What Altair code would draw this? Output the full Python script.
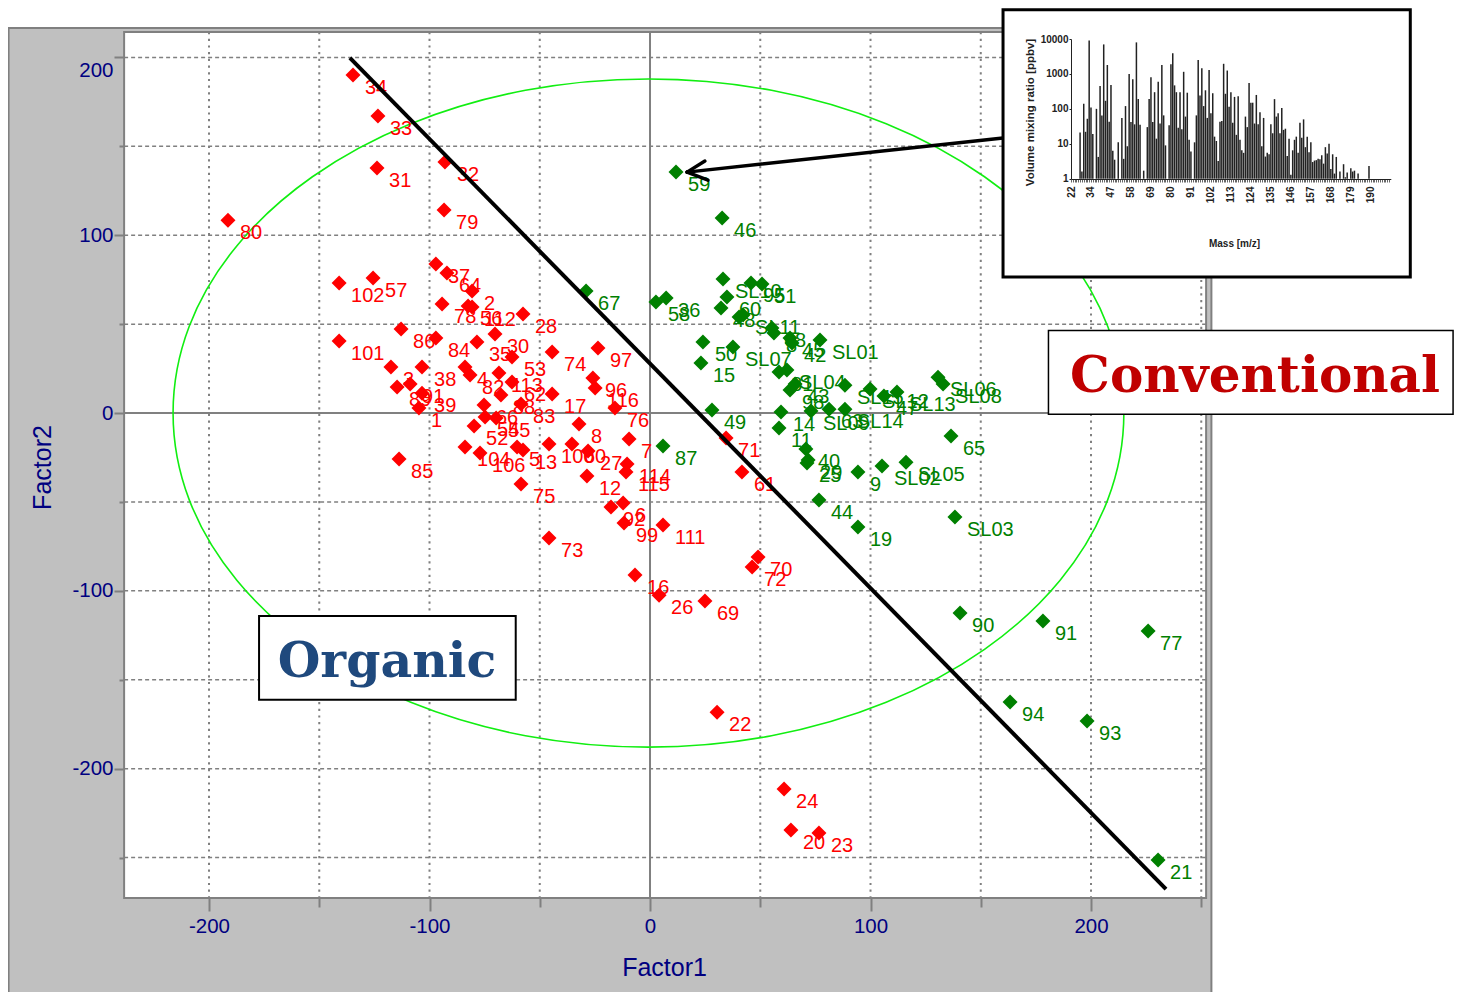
import altair as alt
import pandas as pd

# ---- scatter scores (Factor1, Factor2, sample label) ----
red_x = [-134.7,-123.4,-123.8,-93.0,-93.4,-191.4,-141.0,-125.6,-141.0,-113.8,-97.1,-92.1,-80.7,-94.3,-82.5,-80.7,-57.6,-112.9,-97.1,-78.5,-70.3,-44.4,-62.6,-23.6,-117.5,-103.4,-83.9,-81.6,-68.5,-62.6,-25.9,-24.9,-114.7,-108.8,-103.4,-104.8,-58.5,-67.6,-44.4,-75.3,-79.8,-74.8,-69.8,-15.9,-32.2,-9.5,-83.9,-77.1,-60.3,-57.6,-45.8,-35.4,-28.1,-10.4,-10.9,-28.6,-58.5,-17.7,-12.2,-11.8,5.9,-45.8,-6.8,4.1,24.9,49.0,46.3,30.4,60.8,63.9,76.6,34.5,41.7]
red_y = [190.1,167.0,137.8,141.2,114.2,108.5,73.1,75.9,40.5,-25.9,83.8,78.7,68.6,61.3,60.2,59.6,55.7,47.2,42.2,39.9,44.4,34.3,31.5,36.6,25.9,25.9,25.9,21.4,22.5,17.4,19.7,14.1,14.6,16.3,11.2,2.8,5.1,10.1,10.7,4.5,-7.3,-2.2,-2.8,2.8,-6.2,-14.6,-19.1,-22.5,-19.1,-20.8,-17.4,-17.4,-21.4,-28.7,-33.2,-35.4,-39.9,-52.9,-50.6,-61.9,-63.0,-70.3,-91.1,-102.4,-105.7,-81.0,-86.6,-168.2,-211.5,-234.5,-236.2,-14.1,-33.2]
red_labels = ["34","33","31","32","79","80","102","57","101","85","37","64","2","78","56","112","28","86","84","35","30","74","53","97","3","38","4","82","113","62","96","116","89","91","39","1","83","88","17","66","52","54","55","76","8","7","104","106","5","13","100","60","27","114","115","12","75","92","6","99","111","73","16","26","69","70","72","22","24","20","23","71","61"]

green_x = [11.8,32.7,-29.0,2.7,7.3,33.1,45.8,50.8,34.9,32.2,42.2,40.4,55.3,56.2,63.5,64.4,77.1,24.0,37.6,23.1,58.5,62.1,65.8,63.5,88.4,99.8,106.1,112.0,130.6,132.9,59.4,73.0,81.2,88.4,58.5,28.1,70.7,71.7,71.2,94.3,105.2,116.1,136.5,76.6,138.3,94.3,5.9,140.6,178.2,225.9,163.3,198.2,230.4]
green_y = [135.5,109.7,68.6,62.4,64.7,75.4,73.1,72.6,65.2,59.1,55.1,54.0,47.8,45.0,42.2,39.4,41.1,39.9,37.1,28.1,23.1,24.2,16.3,12.9,15.7,13.5,9.6,11.8,20.2,16.3,0.6,1.1,2.2,2.2,-8.4,1.7,-20.2,-26.4,-28.1,-33.2,-29.8,-27.6,-12.9,-48.9,-58.5,-64.1,-18.6,-112.5,-117.0,-122.6,-162.5,-173.2,-251.4]
green_labels = ["59","46","67","58","36","SL10","95","51","60","48","SL11","","68","8","45","42","SL01","50","SL07","15","81","SL04","43","98","SL15","SL12","47","SL13","SL06","SL08","14","SL09","63","SL14","11","49","40","29","25","9","SL02","SL05","65","44","SL03","19","87","90","91","77","94","93","21"]

# ---- confidence ellipse ----
ell_x = [214.9,207.6,186,151.7,107.1,55.1,-0.7,-56.5,-108.5,-153.1,-187.4,-209,-216.3,-209,-187.4,-153.1,-108.5,-56.5,-0.7,55.1,107.1,151.7,186,207.6]
ell_y = [0,48.7,94,132.9,162.7,181.5,187.9,181.5,162.7,132.9,94,48.7,0,-48.7,-94,-132.9,-162.7,-181.5,-187.9,-181.5,-162.7,-132.9,-94,-48.7]

# ---- separating line and arrow ----
sep_x = [-136.1, 234.0]
sep_y = [199.7, -267.7]
arrow_x = [160.1, 16.8, 24.9, 16.8, 16.8, 26.3]
arrow_y = [154.7, 135.5, 141.7, 135.5, 135.5, 131.0]
arrow_seg = [0, 0, 1, 1, 2, 2]

# ---- axes ----
x_ticks = [-200, -150, -100, -50, 0, 50, 100, 150, 200, 250]
y_ticks = [200, 150, 100, 50, 0, -50, -100, -150, -200, -250]
x_grid = [v for v in x_ticks if v != 0]
y_grid = [v for v in y_ticks if v != 0]

# ---- inset spectrum (bar position, volume mixing ratio) ----
ms_idx = [5,6,7,8,9,10,11,12,14,15,16,17,18,19,20,21,22,23,24,26,28,29,30,31,32,33,34,35,36,37,38,40,42,43,44,45,46,47,48,49,50,51,52,54,55,56,57,58,59,60,61,62,63,64,65,66,68,69,70,71,72,73,74,75,76,77,78,79,80,81,82,83,84,85,86,87,88,89,90,91,92,93,94,95,96,97,98,99,100,101,102,103,104,105,106,107,108,109,110,111,112,113,114,115,116,117,118,119,120,121,122,123,124,125,126,127,128,129,130,131,132,133,134,135,136,137,138,139,140,141,142,143,144,145,146,148,150,151,152,154,155,156,158,164]
ms_val = [21,1.6,140,22,52,9000,110,19,100,4.2,450,65,7000,170,1800,43,480,6.3,3.5,11,55,3.7,120,8.5,1000,42,700,36,8000,190,35,1.7,30,190,800,42,300,14,600,38,1800,65,9,34,1900,3900,470,300,29,300,26,1150,60,290,13,6,11,65,2500,240,1450,120,340,55,1300,75,280,16,12,3.2,43,45,1950,270,1250,115,300,40,220,18,230,13,6.5,5.5,60,30,550,150,150,38,250,36,80,8.5,55,4.3,5.5,5,36,20,190,60,75,20,105,25,27,4.5,14,1.3,6.5,13,16,5.5,40,15,50,8,16,5.7,11,3,3.3,3.4,3.7,3.6,4.7,2.7,8,5.3,10,1.9,5,1.4,4.2,1.6,2.6,1.1,1.5,2.0,1.6,1.7,1.4,2.3]
ms_tick_labels = [22,34,47,58,69,80,91,102,113,124,135,146,157,168,179,190]
ms_ticks = list(range(176))
ms_y_ticks = [1, 10, 100, 1000, 10000]

# ---- boxes (data units of the main axes) ----
panel = dict(x=[-290.9], x2=[254.6], y=[216.5], y2=[-328.0])
plot_rect = dict(x=[-238.5], x2=[252.2], y=[214.3], y2=[-272.8])
inset_box = dict(x=[160.1], x2=[344.8], y=[226.8], y2=[76.5])
conv_box = dict(x=[180.7], x2=[364.2], y=[46.4], y2=[-0.7])
org_box = dict(x=[-177.3], x2=[-60.9], y=[-114.2], y2=[-161.2])
conv_text = dict(x=[274.4], y=[20.5], t=["Conventional"])
org_text = dict(x=[-119.3], y=[-140.0], t=["Organic"])

FONT = "Liberation Sans"
NAVY = "#000080"
GRAY = "#808080"
RED = "#ff0000"
GREEN = "#008000"
W, H = 1446, 984

sx = alt.Scale(domain=[-291.16, 364.62], nice=False, zero=False)
sy = alt.Scale(domain=[-325.6, 227.8], nice=False, zero=False)
X = lambda f, **k: alt.X(f, type="quantitative", scale=sx, **k)
Y = lambda f, **k: alt.Y(f, type="quantitative", scale=sy, **k)
X2 = alt.X2("x2")
Y2 = alt.Y2("y2")

hide_minor = "datum.value % 100 === 0 ? '' + datum.value : ''"
x_axis = alt.Axis(
    orient="bottom", offset=-94, values=x_ticks, labelExpr=hide_minor, domain=False, grid=False,
    tickColor=GRAY, tickWidth=2, tickSize={"condition": {"test": "datum.value % 100 === 0", "value": 13}, "value": 9},
    labelFont=FONT, labelFontSize=20.5, labelColor=NAVY, labelPadding=5, labelOverlap=False, labelFlush=False,
    title="Factor1", titleFont=FONT, titleFontSize=25, titleFontWeight="normal", titleColor=NAVY,
    titleX=656, titleY=69, titleBaseline="middle", titleAnchor="middle", zindex=1)
y_axis = alt.Axis(
    orient="left", offset=-116, values=y_ticks, labelExpr="datum.value % 100 === 0 ? '' + datum.value : ''",
    domain=False, grid=False, tickColor=GRAY, tickWidth=2,
    tickSize={"condition": {"test": "datum.value % 100 === 0", "value": 10}, "value": 5},
    labelFont=FONT, labelFontSize=20.5, labelColor=NAVY, labelPadding=1, labelOverlap=False, labelFlush=False,
    labelOffset={"condition": {"test": "datum.value === 200", "value": 13}, "value": 0},
    title="Factor2", titleFont=FONT, titleFontSize=25, titleFontWeight="normal", titleColor=NAVY,
    titleX=-82, titleY=459, titleBaseline="middle", titleAnchor="middle", zindex=1)


def box(d, fill, stroke, sw):
    return alt.Chart(pd.DataFrame(d)).mark_rect(fill=fill, stroke=stroke, strokeWidth=sw).encode(
        x=X("x"), x2=X2, y=Y("y"), y2=Y2)


panel_l = box(panel, "#c0c0c0", GRAY, 2).encode(x=X("x", axis=x_axis), y=Y("y", axis=y_axis))
plot_l = box(plot_rect, "#ffffff", GRAY, 2)

left, right = plot_rect["x"][0], plot_rect["x2"][0]
top, bottom = plot_rect["y"][0], plot_rect["y2"][0]
gx = pd.DataFrame({"x": x_grid, "y": top, "y2": bottom})
gy = pd.DataFrame({"y": y_grid, "x": left, "x2": right})
grid_v = alt.Chart(gx).mark_rule(color=GRAY, strokeWidth=2, strokeDash=[2.2, 4.5]).encode(x=X("x"), y=Y("y"), y2=Y2)
grid_h = alt.Chart(gy).mark_rule(color=GRAY, strokeWidth=1.5, strokeDash=[4, 3]).encode(y=Y("y"), x=X("x"), x2=X2)
zero_v = alt.Chart(pd.DataFrame({"x": [0], "y": [top], "y2": [bottom]})).mark_rule(color=GRAY, strokeWidth=2).encode(x=X("x"), y=Y("y"), y2=Y2)
zero_h = alt.Chart(pd.DataFrame({"y": [0], "x": [left], "x2": [right]})).mark_rule(color=GRAY, strokeWidth=2).encode(y=Y("y"), x=X("x"), x2=X2)

ell = alt.Chart(pd.DataFrame({"x": ell_x, "y": ell_y, "o": range(len(ell_x))})).mark_line(
    color="#11ee11", strokeWidth=1.6, interpolate="cardinal-closed").encode(x=X("x"), y=Y("y"), order="o:Q")

red = pd.DataFrame({"x": red_x, "y": red_y, "t": red_labels})
green = pd.DataFrame({"x": green_x, "y": green_y, "t": green_labels})


def labels(df, color):
    return alt.Chart(df).mark_text(align="left", baseline="middle", dx=12, dy=13, font=FONT, fontSize=20, color=color).encode(
        x=X("x"), y=Y("y"), text="t:N")


def diamonds(df, color):
    return alt.Chart(df).mark_point(shape="diamond", filled=True, opacity=1, size=225, color=color, strokeWidth=0).encode(
        x=X("x"), y=Y("y"))


sep = alt.Chart(pd.DataFrame({"x": sep_x, "y": sep_y})).mark_line(color="#000000", strokeWidth=4).encode(x=X("x"), y=Y("y"))
arrow = alt.Chart(pd.DataFrame({"x": arrow_x, "y": arrow_y, "s": arrow_seg})).mark_line(
    color="#000000", strokeWidth=3.5, strokeCap="round").encode(x=X("x"), y=Y("y"), detail="s:N")


def big_text(d, color, size):
    return alt.Chart(pd.DataFrame(d)).mark_text(font="DejaVu Serif", fontWeight="bold", fontSize=size, color=color,
                                                align="center", baseline="middle").encode(x=X("x"), y=Y("y"), text="t:N")


main = alt.layer(
    panel_l, plot_l, grid_v, grid_h, zero_v, zero_h, ell,
    labels(red, RED), labels(green, GREEN), diamonds(red, RED), diamonds(green, GREEN),
    sep, arrow,
    box(conv_box, "#ffffff", "#000000", 1.5), big_text(conv_text, "#c00000", 50),
    box(org_box, "#ffffff", "#000000", 2), big_text(org_text, "#1f497d", 49),
    box(inset_box, "#ffffff", "#000000", 3),
)

# ---- inset: own scales, placed through the scale ranges ----
tick_js = "[" + ",".join(f"'{v}'" for v in ms_tick_labels) + "]"
ix = alt.Scale(domain=[0, 176], range=[1063, 1382.8], nice=False, zero=False, padding=0)
iy = alt.Scale(type="log", domain=[1, 10000], range=[170.7, 31], nice=False)
ms = pd.DataFrame({"i": ms_idx, "v": ms_val, "b": 1})
INK = "#222222"
inset = alt.Chart(ms).mark_bar(width=1.5, color="#222222").encode(
    x=alt.X("i:Q", scale=ix, axis=alt.Axis(
        orient="bottom", offset=-813, values=ms_ticks,
        labelExpr=f"datum.value % 11 === 0 ? {tick_js}[datum.value / 11] : ''",
        labelAngle=270, labelFont=FONT, labelFontSize=10, labelFontWeight="bold", labelColor=INK, labelOverlap=False,
        labelFlush=False, labelPadding=4, tickSize=3, tickColor="#666666", tickWidth=1, domainColor="#222222", grid=False,
        title="Mass [m/z]", titleFont=FONT, titleFontSize=10, titleFontWeight="bold", titleColor=INK,
        titleX=1226, titleY=64, titleBaseline="middle", titleAnchor="middle", zindex=1)),
    y=alt.Y("v:Q", scale=iy, axis=alt.Axis(
        orient="left", offset=-1063, values=ms_y_ticks, labelFont=FONT, labelFontSize=10, labelFontWeight="bold",
        labelColor=INK, labelFlush=False, labelPadding=1, tickSize=2, tickColor=INK, domainColor=INK, grid=False,
        labelExpr="'' + datum.value",
        title="Volume mixing ratio [ppbv]", titleFont=FONT, titleFontSize=11.5, titleFontWeight="bold", titleColor=INK,
        titleX=-41, titleY=104, titleBaseline="middle", titleAnchor="middle", zindex=1)),
    y2=alt.Y2("b"),
)

chart = alt.layer(main, inset).resolve_scale(x="independent", y="independent").properties(
    width=W, height=H, padding=0, background="#ffffff",
    autosize=alt.AutoSizeParams(type="none"),
).configure_view(stroke=None)

chart.save("out.html", embed_options={"renderer": "svg", "actions": False})
